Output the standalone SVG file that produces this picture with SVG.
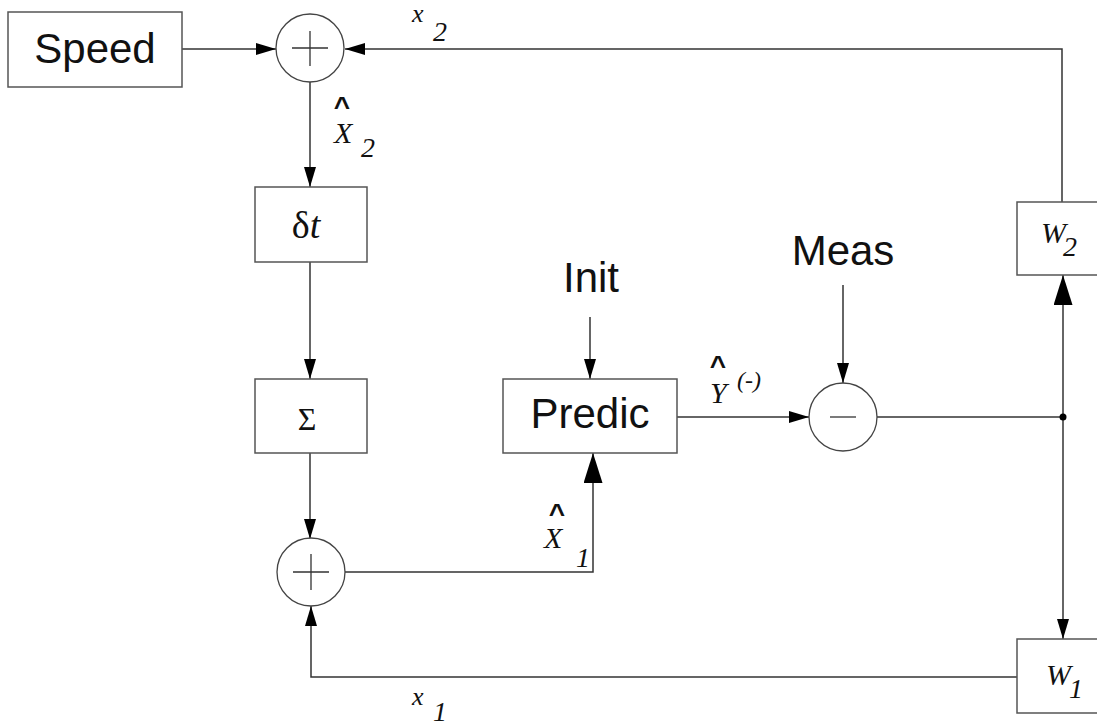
<svg xmlns="http://www.w3.org/2000/svg" width="1097" height="727" viewBox="0 0 1097 727">
<style>
.box{fill:#fff;stroke:#555;stroke-width:1.5}
.circ{fill:#fff;stroke:#444;stroke-width:1.3}
.sign{stroke:#333;stroke-width:1.3;fill:none}
.ln{fill:none;stroke:#333;stroke-width:1.5}
.sans{font-family:"Liberation Sans",Arial,sans-serif;font-size:42px;fill:#111}
.math{font-family:"Liberation Serif","Times New Roman",serif;font-style:italic;fill:#111}
.hat{font-family:"Liberation Sans",Arial,sans-serif;font-weight:bold;font-size:28px;fill:#111}
</style>
<defs>
<marker id="sm" viewBox="0 0 20 12" refX="20" refY="6" markerWidth="20" markerHeight="12" markerUnits="userSpaceOnUse" orient="auto"><path d="M0,0 L20,6 L0,12 z" fill="#000"/></marker>
<marker id="bg" viewBox="0 0 30 19" refX="30" refY="9.5" markerWidth="30" markerHeight="19" markerUnits="userSpaceOnUse" orient="auto"><path d="M0,0 L30,9.5 L0,19 z" fill="#000"/></marker>
</defs>
<g id="connectors">
<path class="ln" d="M182,49 L276,49" marker-end="url(#sm)"/>
<path class="ln" d="M1062,202 L1062,49 L345,49" marker-end="url(#sm)"/>
<path class="ln" d="M310,82 L310,187" marker-end="url(#sm)"/>
<path class="ln" d="M310,262 L310,379" marker-end="url(#sm)"/>
<path class="ln" d="M310,453 L310,539" marker-end="url(#sm)"/>
<path class="ln" d="M345,572 L593,572 L593,453" marker-end="url(#bg)"/>
<path class="ln" d="M590,317 L590,379" marker-end="url(#sm)"/>
<path class="ln" d="M843,285 L843,383" marker-end="url(#sm)"/>
<path class="ln" d="M677,417 L809,417" marker-end="url(#sm)"/>
<path class="ln" d="M877,417 L1063,417"/>
<path class="ln" d="M1063,417 L1063,275" marker-end="url(#bg)"/>
<path class="ln" d="M1063,417 L1063,639" marker-end="url(#sm)"/>
<path class="ln" d="M1017,677 L311,677 L311,606" marker-end="url(#sm)"/>
<circle cx="1063" cy="417" r="3.5" fill="#000"/>
</g>
<g id="speed"><rect class="box" x="8" y="12" width="174" height="75"/><text class="sans" x="95" y="63" text-anchor="middle">Speed</text></g>
<g id="sum-top"><circle class="circ" cx="310" cy="48" r="34"/><path class="sign" d="M292,48 H328 M310,31 V66"/></g>
<g id="dt"><rect class="box" x="255" y="187" width="112" height="75"/><text x="306" y="238" text-anchor="middle" style="font-family:'Liberation Serif',serif;font-size:38px;fill:#111">δ<tspan font-style="italic">t</tspan></text></g>
<g id="integ"><rect class="box" x="255" y="379" width="112" height="74"/><text x="307" y="430" text-anchor="middle" style="font-family:'Liberation Serif',serif;font-size:32px;fill:#111">Σ</text></g>
<g id="sum-bottom"><circle class="circ" cx="311" cy="572" r="34"/><path class="sign" d="M293,572 H329 M311,554 V590"/></g>
<g id="predic"><rect class="box" x="503" y="379" width="174" height="74"/><text class="sans" x="590" y="428" text-anchor="middle">Predic</text></g>
<g id="init"><text class="sans" x="591" y="292" text-anchor="middle">Init</text></g>
<g id="meas"><text class="sans" x="843" y="265" text-anchor="middle">Meas</text></g>
<g id="diff"><circle class="circ" cx="843" cy="417" r="34"/><path class="sign" d="M830,417 H856"/></g>
<g id="w2"><rect class="box" x="1017" y="202" width="92" height="73"/><text class="math" x="1041" y="243" font-size="30">W</text><text class="math" x="1063" y="256" font-size="28">2</text></g>
<g id="w1"><rect class="box" x="1017" y="639" width="92" height="74"/><text class="math" x="1046" y="685" font-size="30">W</text><text class="math" x="1069" y="698" font-size="28">1</text></g>
<g id="labels">
<text class="math" x="412" y="22" font-size="26">x</text><text class="math" x="433" y="41" font-size="28">2</text>
<text class="hat" x="342" y="116" text-anchor="middle">^</text><text class="math" x="334" y="143" font-size="30">X</text><text class="math" x="361" y="157" font-size="28">2</text>
<text class="hat" x="557" y="523" text-anchor="middle">^</text><text class="math" x="544" y="548" font-size="30">X</text><text class="math" x="576" y="567" font-size="28">1</text>
<text class="hat" x="718" y="375" text-anchor="middle">^</text><text class="math" x="710" y="403" font-size="30">Y</text><text class="math" x="737" y="388" font-size="24">(-)</text>
<text class="math" x="412" y="705" font-size="26">x</text><text class="math" x="433" y="721" font-size="28">1</text>
</g>
</svg>
